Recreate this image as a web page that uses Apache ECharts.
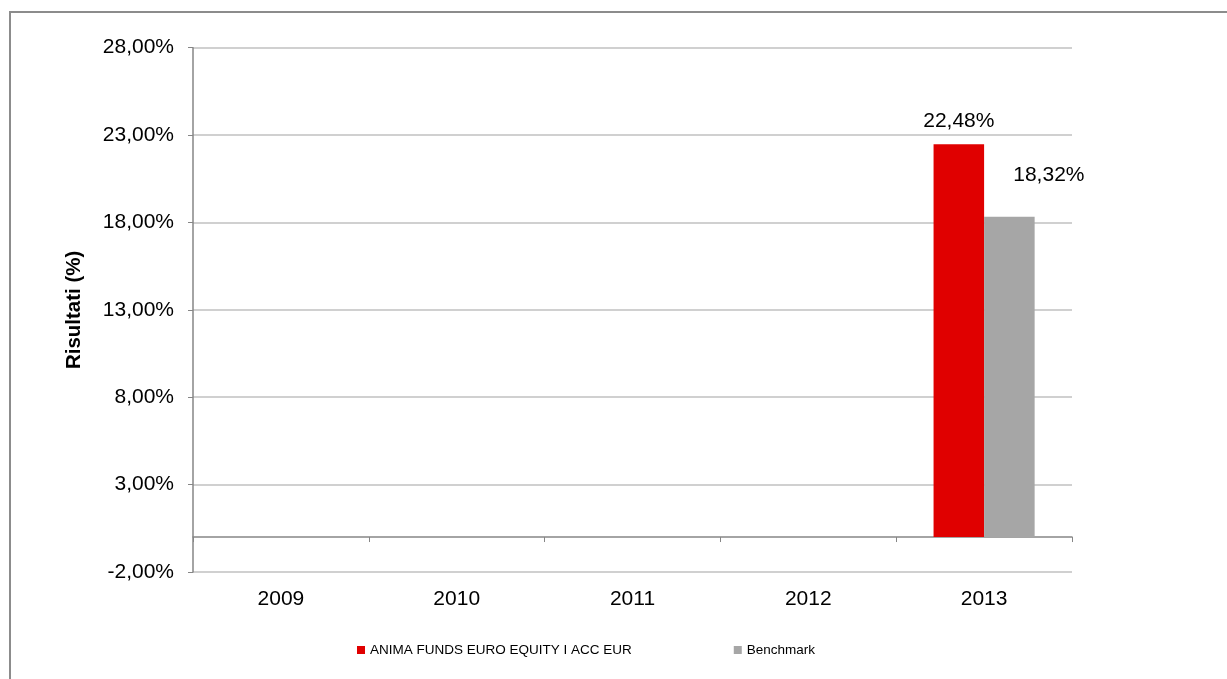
<!DOCTYPE html>
<html>
<head>
<meta charset="utf-8">
<script src="https://cdn.jsdelivr.net/npm/echarts@6/dist/echarts.min.js"></script>
<style>
html,body{margin:0;padding:0;background:#fff;}
#chart{width:1227px;height:679px;}
</style>
</head>
<body>
<div id="chart"></div>
<script>
const categories = ['2009', '2010', '2011', '2012', '2013'];
const fundName = 'ANIMA FUNDS EURO EQUITY I ACC EUR';
const benchName = 'Benchmark';
const fundValues = [null, null, null, null, 22.48];
const benchValues = [null, null, null, null, 18.32];
const yTitle = 'Risultati (%)';

const FONT = '"Liberation Sans", Arial, sans-serif';
const fmt = v => v.toFixed(2).replace('.', ',') + '%';

const chart = echarts.init(document.getElementById('chart'));
chart.setOption({
  animation: false,
  backgroundColor: '#fff',
  textStyle: { fontFamily: FONT },
  graphic: [{
    type: 'rect',
    shape: { x: 10, y: 12, width: 1400, height: 900 },
    style: { fill: null, stroke: '#8c8c8c', lineWidth: 2 },
    silent: true
  }],
  grid: { left: 193, right: 155, top: 47.7, bottom: 107, containLabel: false },
  legend: {
    left: 352, top: 638,
    itemWidth: 8, itemHeight: 8, itemGap: 102,
    icon: 'rect',
    textStyle: { fontFamily: FONT, fontSize: 13.5, color: '#000' },
    data: [fundName, benchName]
  },
  xAxis: [{
    type: 'category',
    data: categories,
    axisLine: { onZero: true, lineStyle: { color: '#868686', width: 1.5 } },
    axisTick: { show: true, length: 5, lineStyle: { color: '#868686' } },
    axisLabel: { show: false },
    splitLine: { show: false }
  }, {
    type: 'category',
    data: categories,
    position: 'bottom',
    axisLine: { show: false, onZero: false },
    axisTick: { show: false },
    axisLabel: { show: true, margin: 17, fontFamily: FONT, fontSize: 21, color: '#000' },
    splitLine: { show: false }
  }],
  yAxis: {
    type: 'value',
    min: -2, max: 28, interval: 5,
    name: yTitle,
    nameLocation: 'middle',
    nameRotate: 90,
    nameGap: 108,
    nameTextStyle: { fontFamily: FONT, fontSize: 20.5, fontWeight: 'bold', color: '#000' },
    axisLine: { show: true, lineStyle: { color: '#868686', width: 1.5 } },
    axisTick: { show: true, length: 5, lineStyle: { color: '#868686' } },
    axisLabel: { formatter: fmt, margin: 19, fontFamily: FONT, fontSize: 21, color: '#000' },
    splitLine: { show: true, lineStyle: { color: '#c0c0c0', width: 1.5 } }
  },
  series: [{
    name: fundName,
    type: 'bar',
    data: fundValues,
    barGap: '0%',
    barCategoryGap: '42.5%',
    itemStyle: { color: '#e00000' },
    label: {
      show: true, position: 'top', offset: [0, -7],
      formatter: p => fmt(p.value),
      fontFamily: FONT, fontSize: 21, color: '#000'
    }
  }, {
    name: benchName,
    type: 'bar',
    data: benchValues,
    itemStyle: { color: '#a6a6a6' },
    label: {
      show: true, position: 'top', offset: [39.5, -26],
      formatter: p => fmt(p.value),
      fontFamily: FONT, fontSize: 21, color: '#000'
    }
  }]
});
</script>
</body>
</html>
